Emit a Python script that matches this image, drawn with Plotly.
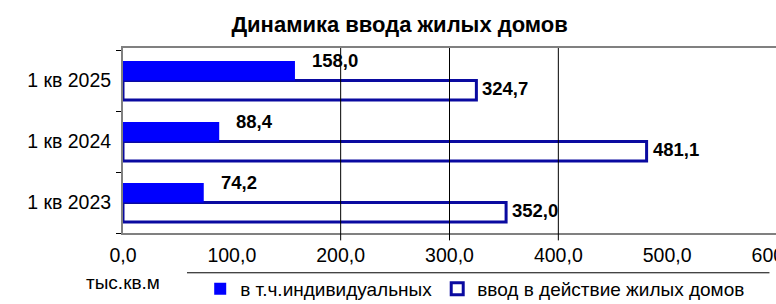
import plotly.graph_objects as go

categories = ["1 кв 2023", "1 кв 2024", "1 кв 2025"]
individual = [74.2, 88.4, 158.0]
total = [352.0, 481.1, 324.7]
individual_labels = ["74,2", "88,4", "158,0"]
total_labels = ["352,0", "481,1", "324,7"]
tick_vals = [0, 100, 200, 300, 400, 500, 600]
tick_text = ["0,0", "100,0", "200,0", "300,0", "400,0", "500,0", "600,0"]
grid_vals = [200, 300, 400]

FONT = "Liberation Sans, Arial, sans-serif"

fig = go.Figure()
fig.add_trace(go.Bar(
    y=categories, x=total, orientation="h", name="ввод в действие жилых домов",
    marker=dict(color="rgba(255,255,255,0)", line=dict(color="#0a0aa0", width=3)),
    legendrank=2, hoverinfo="skip",
))
fig.add_trace(go.Bar(
    y=categories, x=individual, orientation="h", name="в т.ч.индивидуальных",
    marker=dict(color="#0000ff", line=dict(color="#0000ff", width=0)),
    legendrank=1, hoverinfo="skip",
))

annotations = []
for c, v, t in zip(categories, individual, individual_labels):
    annotations.append(dict(x=v, y=c, xref="x", yref="y", text=t, showarrow=False,
                            xanchor="left", yanchor="middle", xshift=15, yshift=20,
                            font=dict(family=FONT, size=18.5, color="black", weight="bold")))
for c, v, t in zip(categories, total, total_labels):
    annotations.append(dict(x=v, y=c, xref="x", yref="y", text=t, showarrow=False,
                            xanchor="left", yanchor="middle", xshift=4, yshift=-8,
                            font=dict(family=FONT, size=18.5, color="black", weight="bold")))
annotations.append(dict(x=0, y=-0.2, xref="x", yref="paper", text="тыс.кв.м", showarrow=False,
                        xanchor="center", yanchor="top",
                        font=dict(family=FONT, size=19, color="black")))

shapes = [dict(type="line", xref="x", yref="paper", x0=g, x1=g, y0=-0.04, y1=1,
               line=dict(color="black", width=1), layer="above") for g in grid_vals]
shapes.append(dict(type="line", xref="paper", yref="paper", x0=0.098, x1=0.99,
                   y0=-0.215, y1=-0.215, line=dict(color="black", width=1)))

fig.update_layout(
    width=776, height=304,
    margin=dict(l=123, r=0, t=48, b=71, autoexpand=False),
    paper_bgcolor="white", plot_bgcolor="white",
    barmode="group", bargap=0.36, bargroupgap=0,
    title=dict(text="<b>Динамика ввода жилых домов</b>", x=0.515, xanchor="center",
               y=0.92, yanchor="middle",
               font=dict(family=FONT, size=22, color="black")),
    font=dict(family=FONT, size=19.5, color="black"),
    xaxis=dict(range=[0, 600], tickvals=tick_vals, ticktext=tick_text, showgrid=False,
               zeroline=False, showline=True, linecolor="#808080", linewidth=2, mirror=True,
               ticks="", ticklabelstandoff=4, ticklabeloverflow="allow", automargin=False,
               tickfont=dict(family=FONT, size=19.5, color="black")),
    yaxis=dict(showgrid=False, showline=True, linecolor="#808080", linewidth=2,
               ticks="outside", tickson="boundaries", ticklen=5, tickcolor="black",
               ticklabelstandoff=6, automargin=False,
               tickfont=dict(family=FONT, size=19.5, color="black")),
    legend=dict(orientation="h", xref="container", yref="container",
                x=0.258, xanchor="left", y=0.112, yanchor="top",
                font=dict(family=FONT, size=19, color="black"), itemwidth=30,
                bgcolor="rgba(0,0,0,0)"),
    showlegend=True,
    annotations=annotations, shapes=shapes,
)

fig.write_html("out.html")
